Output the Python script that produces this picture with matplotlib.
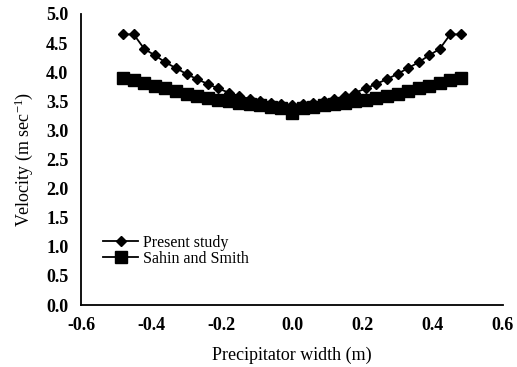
import matplotlib
matplotlib.use("Agg")
import matplotlib.pyplot as plt

# Data
width = [-0.48, -0.45, -0.42, -0.39, -0.36, -0.33, -0.30, -0.27, -0.24, -0.21, -0.18,
         -0.15, -0.12, -0.09, -0.06, -0.03, 0.00, 0.03, 0.06, 0.09, 0.12, 0.15,
         0.18, 0.21, 0.24, 0.27, 0.30, 0.33, 0.36, 0.39, 0.42, 0.45, 0.48]
present_study = [4.65, 4.65, 4.40, 4.29, 4.17, 4.07, 3.97, 3.88, 3.80, 3.72, 3.65,
                 3.59, 3.54, 3.50, 3.47, 3.45, 3.44, 3.45, 3.47, 3.50, 3.54, 3.59,
                 3.65, 3.72, 3.80, 3.88, 3.97, 4.07, 4.17, 4.29, 4.40, 4.65, 4.65]
sahin_smith = [3.90, 3.86, 3.82, 3.77, 3.72, 3.67, 3.62, 3.59, 3.56, 3.52, 3.50,
               3.47, 3.45, 3.43, 3.41, 3.39, 3.30, 3.39, 3.41, 3.43, 3.45, 3.47,
               3.50, 3.52, 3.56, 3.59, 3.62, 3.67, 3.72, 3.77, 3.82, 3.86, 3.90]
x_ticks = [-0.6, -0.4, -0.2, 0.0, 0.2, 0.4, 0.6]
y_ticks = [0.0, 0.5, 1.0, 1.5, 2.0, 2.5, 3.0, 3.5, 4.0, 4.5, 5.0]

plt.rcParams['font.family'] = ['Liberation Serif', 'DejaVu Serif']
plt.rcParams['mathtext.fontset'] = 'custom'
plt.rcParams['mathtext.rm'] = 'Liberation Serif'
plt.rcParams['mathtext.it'] = 'Liberation Serif:italic'

fig = plt.figure(figsize=(5.17, 3.67), dpi=100)
ax = fig.add_axes([81/517, 1 - 305/367, (503 - 81)/517, (305 - 14)/367])

ax.plot(width, present_study, color='black', lw=1.3, marker='D', markersize=5.5,
        label='Present study', zorder=3)
ax.plot(width, sahin_smith, color='black', lw=1.3, marker='s', markersize=8,
        label='Sahin and Smith', zorder=2)

ax.set_xlim(-0.6, 0.6)
ax.set_ylim(0, 5.0)
ax.set_xticks(x_ticks)
ax.set_yticks(y_ticks)
ax.set_xticklabels([f"{v:.1f}" for v in x_ticks], fontweight='bold', fontsize=13)
ax.set_yticklabels([f"{v:.1f}" for v in y_ticks], fontweight='bold', fontsize=13)
ax.tick_params(axis='y', length=0, pad=9)
ax.tick_params(axis='x', length=0, pad=9)

for s in ['top', 'right']:
    ax.spines[s].set_visible(False)
for s in ['left', 'bottom']:
    ax.spines[s].set_linewidth(1.3)

ax.set_xlabel('Precipitator width (m)', fontsize=13, labelpad=9)
ax.set_ylabel(r'Velocity (m sec$^{-1}$)', fontsize=13, labelpad=8)

fig.legend(handles=ax.get_lines(), loc='center left',
           bbox_to_anchor=(103/517, 1 - 251/367), frameon=False,
           fontsize=11.5, handlelength=2.2, handletextpad=0.3, labelspacing=0.0,
           borderpad=0, borderaxespad=0)

fig.savefig('out.png', dpi=100)
